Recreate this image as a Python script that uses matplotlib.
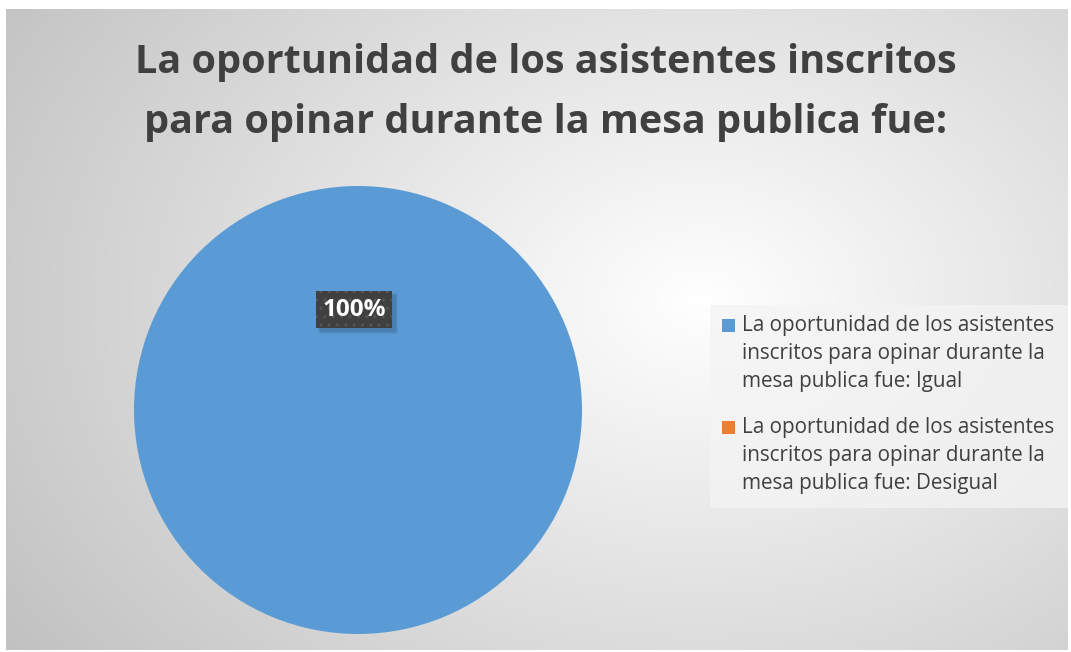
import numpy as np
import matplotlib
matplotlib.use("Agg")
import matplotlib.pyplot as plt
from matplotlib.patches import Rectangle

title_lines = ["La oportunidad de los asistentes inscritos",
               "para opinar durante la mesa publica fue:"]
labels = [["La oportunidad de los asistentes", "inscritos para opinar durante la", "mesa publica fue: Igual"],
          ["La oportunidad de los asistentes", "inscritos para opinar durante la", "mesa publica fue: Desigual"]]
values = [100, 0]
colors = ["#5B9BD5", "#ED7D31"]
pct_label = "100%"

W, H = 1071, 652
fig = plt.figure(figsize=(W / 100, H / 100), dpi=100)
fig.patch.set_facecolor("white")

def fx(px):
    return px / W

def fy(py):
    return 1 - py / H

# chart area background with radial gradient
x0, y0, x1, y1 = 6, 9, 1068, 650
bg = fig.add_axes([fx(x0), fy(y1), (x1 - x0) / W, (y1 - y0) / H])
yy, xx = np.mgrid[y0:y1, x0:x1]
d = np.sqrt(((xx - 700) / 760) ** 2 + ((yy - 300) / 560) ** 2)
g = np.clip(1.0 - 0.22 * d, 0, 1)
bg.imshow(np.dstack([g, g, g]), aspect="auto", extent=[0, 1, 0, 1], interpolation="bilinear")
bg.set_axis_off()

for i, line in enumerate(title_lines):
    fig.text(fx(546), fy(62 + 60 * i), line, ha="center", va="center", fontsize=28.5,
             fontweight="bold", color="#404040", family="Open Sans")

# pie
cx, cy, r = 358, 410, 224
ax = fig.add_axes([fx(cx - r), fy(cy + r), 2 * r / W, 2 * r / H])
ax.pie(values, colors=colors, startangle=90, counterclock=False,
       wedgeprops=dict(edgecolor="none"))
ax.set_xlim(-1, 1)
ax.set_ylim(-1, 1)
ax.set_aspect("auto")

# data label box with soft shadow
bx0, by0, bx1, by1 = 316, 291, 392, 328
for s, a in [(6, 0.05), (5, 0.06), (4, 0.07)]:
    fig.patches.append(Rectangle((fx(bx0 + s - 2), fy(by1 + s)), (bx1 - bx0 + 2) / W,
                                 (by1 - by0 + 2) / H, transform=fig.transFigure,
                                 facecolor=(0, 0, 0, a), edgecolor="none", zorder=5))
fig.patches.append(Rectangle((fx(bx0), fy(by1)), (bx1 - bx0) / W, (by1 - by0) / H,
                             transform=fig.transFigure, facecolor="#404040",
                             edgecolor="#555555", linewidth=0, hatch="..", zorder=6))
fig.text(fx((bx0 + bx1) / 2), fy((by0 + by1) / 2), pct_label, ha="center", va="center",
         fontsize=17.5, fontweight="bold", color="white", family="Open Sans", zorder=7)

# legend (manual)
fig.patches.append(Rectangle((fx(710), fy(508)), (1068 - 710) / W, (508 - 305) / H,
                             transform=fig.transFigure, facecolor="#f4f4f4", alpha=0.75,
                             edgecolor="none", zorder=1))
for k, (lines, c) in enumerate(zip(labels, colors)):
    ytop = 326 + 102 * k
    fig.patches.append(Rectangle((fx(722), fy(ytop + 6)), 13 / W, 13 / H,
                                 transform=fig.transFigure, facecolor=c,
                                 edgecolor="none", zorder=2))
    for j, line in enumerate(lines):
        fig.text(fx(742), fy(ytop + 28 * j), line, ha="left", va="center",
                 fontsize=14.9, color="#404040", family="Open Sans", zorder=3)

fig.savefig("out.png", dpi=100, facecolor="white")
